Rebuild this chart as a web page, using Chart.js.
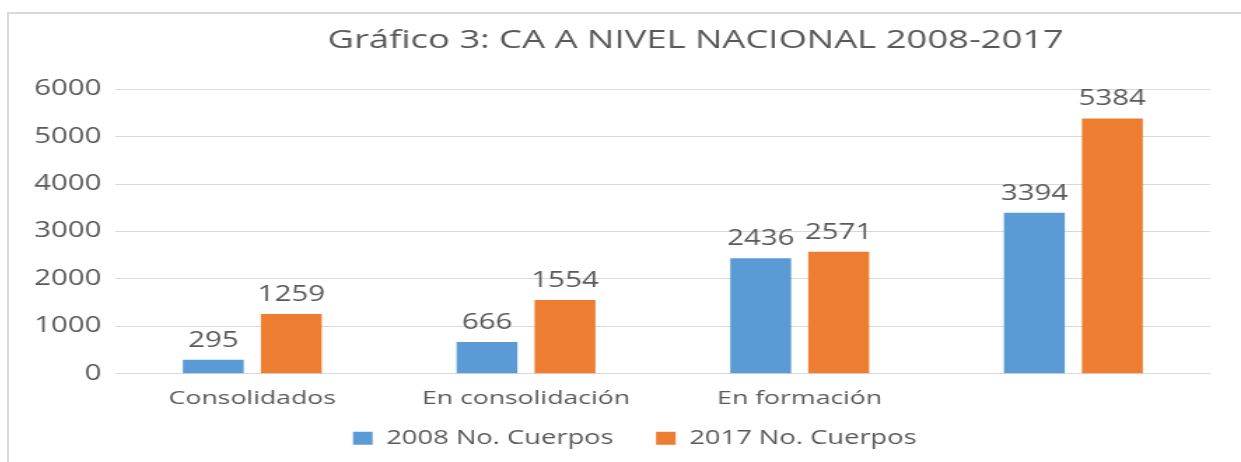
<!DOCTYPE html>
<html>
<head>
<meta charset="utf-8">
<script src="https://cdn.jsdelivr.net/npm/chart.js@4.4.0/dist/chart.umd.min.js"></script>
<style>
  html, body { margin: 0; padding: 0; background: #fff; overflow: hidden; width: 1241px; height: 462px; }
  #frame { position: absolute; left: 7px; top: 12px; border-left: 2px solid #d9d9d9; border-top: 2px solid #d9d9d9; width: 1400px; height: 460px; }
  /* the reference is stretched sideways, so the chart is drawn narrow and widened */
  #wrap { position: absolute; left: 0; top: 0; width: 987px; height: 448px; transform: scaleX(1.4); transform-origin: 0 0; }
</style>
</head>
<body>
<div id="frame"><div id="wrap"><canvas id="chart"></canvas></div></div>
<script>
// ---- data ----
const categories = ["Consolidados", "En consolidación", "En formación", ""];
const series2008 = [295, 666, 2436, 3394];
const series2017 = [1259, 1554, 2571, 5384];
const seriesNames = ["2008 No. Cuerpos", "2017 No. Cuerpos"];
const yTicks = [0, 1000, 2000, 3000, 4000, 5000, 6000];

const FONT = "'Open Sans', 'Noto Sans', sans-serif";
const GREY = "#595959";

// value above each bar
const barValues = {
  id: "barValues",
  afterDatasetsDraw(chart) {
    const ctx = chart.ctx;
    ctx.save();
    ctx.font = "21px " + FONT;
    ctx.fillStyle = GREY;
    ctx.textAlign = "center";
    ctx.textBaseline = "alphabetic";
    chart.data.datasets.forEach((ds, i) => {
      chart.getDatasetMeta(i).data.forEach((bar, j) => {
        ctx.fillText(String(ds.data[j]), bar.x, bar.y - 13);
      });
    });
    ctx.restore();
  }
};

// Excel centred the title on the whole frame and the legend a bit left of the plot
const nudge = {
  id: "nudge",
  afterLayout(chart) {
    chart.titleBlock.left += 57.5;
    chart.titleBlock.right += 57.5;
    chart.legend.left -= 20;
    chart.legend.right -= 20;
  }
};

new Chart(document.getElementById("chart"), {
  type: "bar",
  data: {
    labels: categories,
    datasets: [
      { label: seriesNames[0], data: series2008, backgroundColor: "#5b9bd5" },
      { label: seriesNames[1], data: series2017, backgroundColor: "#ed7d31" }
    ]
  },
  plugins: [barValues, nudge],
  options: {
    responsive: true, maintainAspectRatio: false, animation: false,
    categoryPercentage: 0.57, barPercentage: 0.78,
    layout: { padding: { left: 8, right: 129, top: 0, bottom: 4 } },
    plugins: {
      title: {
        display: true, text: "Gráfico 3: CA A NIVEL NACIONAL 2008-2017",
        color: GREY, font: { family: FONT, size: 26, weight: "normal" },
        padding: { top: 11, bottom: 33 }
      },
      legend: {
        position: "bottom", fullSize: false,
        labels: {
          color: GREY, font: { family: FONT, size: 19.5 },
          boxWidth: 14, boxHeight: 13, padding: 5,
          generateLabels: chart => {
            const items = Chart.defaults.plugins.legend.labels.generateLabels(chart);
            items[0].text += "     ";
            return items;
          }
        }
      },
      tooltip: { enabled: false }
    },
    scales: {
      x: {
        grid: { display: false, drawTicks: false },
        border: { display: false },
        ticks: { color: GREY, font: { family: FONT, size: 19 }, padding: 13.5 },
        // the category labels fit inside their slots; don't reserve side room for them
        afterFit: axis => { axis.paddingLeft = 0; axis.paddingRight = 0; }
      },
      y: {
        min: yTicks[0], max: yTicks[yTicks.length - 1],
        afterBuildTicks: axis => { axis.ticks = yTicks.map(v => ({ value: v })); },
        grid: { color: "#d9d9d9", drawTicks: false },
        border: { display: false },
        ticks: { color: GREY, font: { family: FONT, size: 21 }, padding: 10, callback: v => String(v) }
      }
    }
  }
});
</script>
</body>
</html>
